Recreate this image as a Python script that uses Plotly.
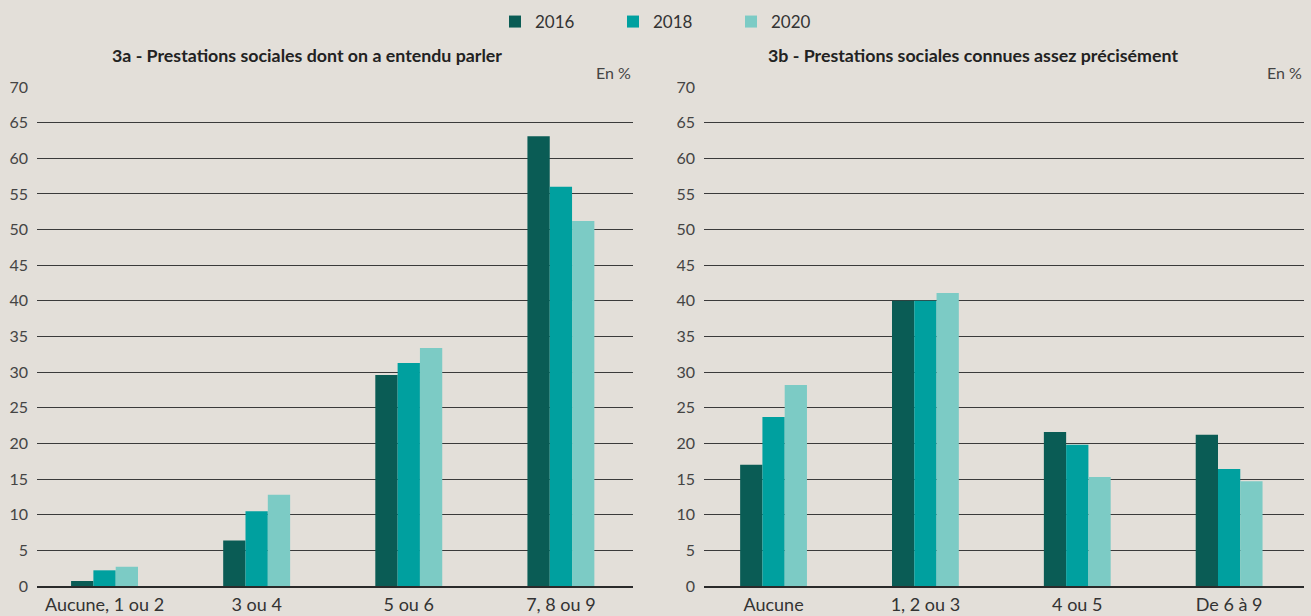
import plotly.graph_objects as go

years = ["2016", "2018", "2020"]
colors = ["#0a5c55", "#00a09f", "#7ccbc5"]

cats_a = ["Aucune, 1 ou 2", "3 ou 4", "5 ou 6", "7, 8 ou 9"]
vals_a = {
    "2016": [0.7, 6.4, 29.6, 63.1],
    "2018": [2.2, 10.5, 31.3, 56.0],
    "2020": [2.7, 12.8, 33.4, 51.2],
}
cats_b = ["Aucune", "1, 2 ou 3", "4 ou 5", "De 6 à 9"]
vals_b = {
    "2016": [17.0, 40.0, 21.6, 21.2],
    "2018": [23.7, 40.0, 19.8, 16.4],
    "2020": [28.2, 41.1, 15.3, 14.7],
}
title_a = "3a - Prestations sociales dont on a entendu parler"
title_b = "3b - Prestations sociales connues assez précisément"
unit = "En %"

W, H = 1311, 616
FONT = "Lato"
BG = "#e3dfd9"

fig = go.Figure()
for y, c in zip(years, colors):
    fig.add_trace(go.Bar(x=cats_a, y=vals_a[y], name=y, marker_color=c,
                         marker_line_width=0, xaxis="x", yaxis="y",
                         legendgroup=y))
    fig.add_trace(go.Bar(x=cats_b, y=vals_b[y], name=y, marker_color=c,
                         marker_line_width=0, xaxis="x2", yaxis="y2",
                         legendgroup=y, showlegend=False))

y0 = (H - 586) / H
y1 = (H - 87) / H
xa = (37 / W, 633 / W)
xb = (704 / W, 1304 / W)

yax = dict(range=[0, 70], tickvals=list(range(0, 71, 5)), showgrid=True,
           gridcolor="#3a3a3a", gridwidth=1, zeroline=False, showline=False,
           ticks="", tickfont=dict(family=FONT, size=16, color="#444"),
           ticklabelstandoff=8, domain=[y0, y1], fixedrange=True,
           automargin=False)
xax = dict(showgrid=False, showline=True, linecolor="#2a2a2a", linewidth=1.5,
           ticks="", tickfont=dict(family=FONT, size=18, color="#333"),
           ticklabelstandoff=2, fixedrange=True, automargin=False,
           type="category")

fig.update_layout(
    width=W, height=H,
    paper_bgcolor=BG, plot_bgcolor=BG,
    margin=dict(l=0, r=0, t=0, b=0, autoexpand=False),
    barmode="group", bargap=0.56, bargroupgap=0,
    xaxis=dict(xax, domain=list(xa), anchor="y", range=[-0.444, 3.474]),
    yaxis=dict(yax, anchor="x"),
    xaxis2=dict(xax, domain=list(xb), anchor="y2", range=[-0.458, 3.493]),
    yaxis2=dict(yax, anchor="x2"),
    legend=dict(orientation="h", x=495 / W, xanchor="left", y=1 - 4 / H,
                yanchor="top", font=dict(family=FONT, size=17, color="#333"),
                entrywidth=73, itemwidth=30, bgcolor="rgba(0,0,0,0)",
                traceorder="normal"),
    showlegend=True,
)

def add_title(text, xc, xr):
    fig.add_annotation(text=f"<b>{text}</b>", x=xc / W,
                       y=1 - 55 / H, xref="paper", yref="paper",
                       showarrow=False, xanchor="center", yanchor="middle",
                       font=dict(family=FONT, size=17.8, color="#222"))
    fig.add_annotation(text=unit, x=xr, y=1 - 73 / H, xref="paper",
                       yref="paper", showarrow=False, xanchor="right",
                       yanchor="middle",
                       font=dict(family=FONT, size=16, color="#444"))

add_title(title_a, 307, xa[1])
add_title(title_b, 973, xb[1])

fig.write_html("out.html", config={"displayModeBar": False},
               post_script="document.body.style.margin='0';document.body.style.overflow='hidden';")
